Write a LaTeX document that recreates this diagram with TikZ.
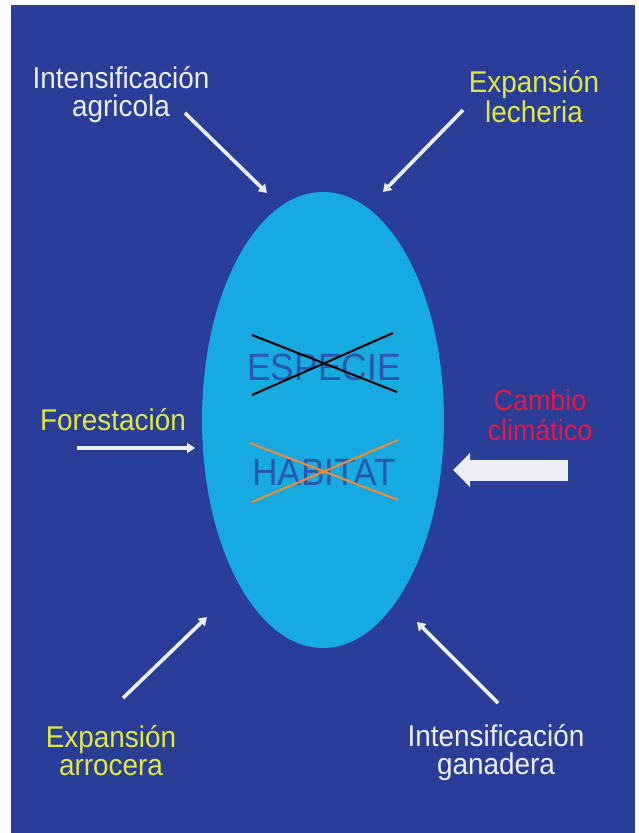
\documentclass[tikz,border=0pt]{standalone}
\usepackage{fontspec}
\setmainfont{Liberation Sans}[FakeStretch=0.93]
\usetikzlibrary{arrows.meta,shapes.geometric}
\definecolor{bgblue}{RGB}{40,62,152}
\definecolor{cyanell}{RGB}{22,170,224}
\definecolor{lblwhite}{RGB}{238,238,248}
\definecolor{lblyel}{RGB}{226,232,62}
\definecolor{lblred}{RGB}{232,24,64}
\definecolor{innertxt}{RGB}{42,86,172}
\definecolor{crossorange}{RGB}{240,140,50}
\newcommand\twoline[2]{\vtop{\halign{\hfil##\hfil\cr#1\cr#2\cr}}}
\tikzset{
  lbl/.style={anchor=base, inner sep=0pt, outer sep=0pt},
  thinarrow/.style={draw=lblwhite, line width=3.6pt, -{Triangle[length=8pt,width=10pt]}},
  bigarrow/.style={draw=lblwhite, line width=21pt, -{Triangle[length=17pt,width=33pt]}},
  crossline/.style={line width=2pt},
  inner/.style={anchor=base, inner sep=0pt, text=innertxt, font=\fontsize{38}{40}\selectfont}
}
\begin{document}
\begin{tikzpicture}[x=1pt,y=-1pt]
\useasboundingbox (0,0) rectangle (639,833);
\fill[white] (0,0) rectangle (639,833);
\fill[bgblue] (11,5) rectangle (635,833);

\node[ellipse, fill=cyanell, minimum width=242pt, minimum height=456pt, inner sep=0pt] (ell) at (323,420) {};

\node[inner] (esp) at (324,380) {ESPECIE};
\node[inner] (hab) at (324,485) {HABITAT};

\coordinate (e1a) at (252,335); \coordinate (e1b) at (397,392);
\coordinate (e2a) at (252,395); \coordinate (e2b) at (393,333);
\draw[crossline, black] (e1a) -- (e1b);
\draw[crossline, black] (e2a) -- (e2b);
\coordinate (h1a) at (250,443); \coordinate (h1b) at (398,500);
\coordinate (h2a) at (252,502); \coordinate (h2b) at (398,440);
\draw[crossline, crossorange] (h1a) -- (h1b);
\draw[crossline, crossorange] (h2a) -- (h2b);

\node[lbl, text=lblwhite, font=\fontsize{30}{28}\selectfont] (ia) at (121,88) {\twoline{Intensificación}{agricola}};
\node[lbl, text=lblyel, font=\fontsize{30}{30}\selectfont] (el) at (534,92) {\twoline{Expansión}{lecheria}};
\node[lbl, text=lblyel, font=\fontsize{30}{30}\selectfont] (fo) at (113,430) {Forestación};
\node[lbl, text=lblred, font=\fontsize{29}{30}\selectfont] (cc) at (540,410) {\twoline{Cambio}{climático}};
\node[lbl, text=lblyel, font=\fontsize{30}{28}\selectfont] (ea) at (111,747) {\twoline{Expansión}{arrocera}};
\node[lbl, text=lblwhite, font=\fontsize{30}{28}\selectfont] (ig) at (496,746) {\twoline{Intensificación}{ganadera}};

\coordinate (iaS) at (185,113); \coordinate (iaE) at (267,193);
\coordinate (elS) at (463,110); \coordinate (elE) at (383,192);
\coordinate (foS) at (77,448);  \coordinate (foE) at (195,448);
\coordinate (eaS) at (123,698); \coordinate (eaE) at (207,617);
\coordinate (igS) at (498,703); \coordinate (igE) at (417,622);
\coordinate (ccS) at (568,470); \coordinate (ccE) at (453,470);

\draw[thinarrow] (iaS) -- (iaE);
\draw[thinarrow] (elS) -- (elE);
\draw[thinarrow] (foS) -- (foE);
\draw[thinarrow] (eaS) -- (eaE);
\draw[thinarrow] (igS) -- (igE);
\draw[bigarrow] (ccS) -- (ccE);
\end{tikzpicture}
\end{document}
